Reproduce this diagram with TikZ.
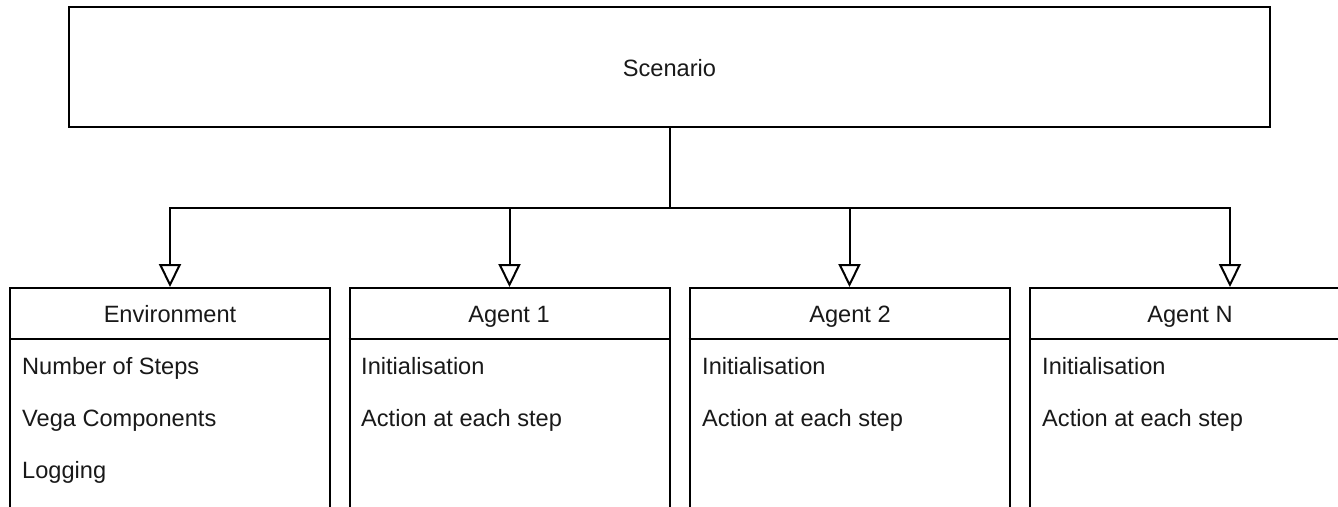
\documentclass[tikz,border=0pt]{standalone}
\usepackage{fontspec}
\setmainfont{Liberation Sans}
\usetikzlibrary{arrows.meta,calc}
\begin{document}
\begin{tikzpicture}[x=1pt,y=-1pt,
  frame/.style={draw=black,line width=2pt,rectangle,inner sep=0pt,fill=white},
  panel/.style={frame,minimum width=320pt,minimum height=300pt,anchor=north},
  txt/.style={font=\fontsize{23.6}{28}\selectfont,text=black!90,inner sep=0pt,anchor=base},
  item/.style={txt,anchor=base west},
  rule/.style={draw=black,line width=2pt},
  feed/.style={draw=black,line width=2pt,-{Triangle[fill=white,length=23pt,width=22pt]}}
]
\useasboundingbox (0,0) rectangle (1338,506);
\clip (0,0) rectangle (1338,506);

% top-level container
\node[frame,minimum width=1201pt,minimum height=120pt] (scen) at (669.5,67) {};
\node[txt] (scent) at (669.5,76) {Scenario};

% component panels
\node[panel] (env) at (170,287) {};
\node[panel] (ag1) at (509.5,287) {};
\node[panel] (ag2) at (849.5,287) {};
\node[panel] (agn) at (1190,287) {};

% header separators
\foreach \b in {env,ag1,ag2,agn}
  \draw[rule] ($(\b.north west)+(0,52)$) -- ($(\b.north east)+(0,52)$);

% headers
\node[txt] (envt) at (170,322) {Environment};
\node[txt] (ag1t) at (509,322) {Agent 1};
\node[txt] (ag2t) at (850,322) {Agent 2};
\node[txt] (agnt) at (1190,322) {Agent N};

% entries
\node[item] (env1) at (22,374) {Number of Steps};
\node[item] (env2) at (22,426) {Vega Components};
\node[item] (env3) at (22,478) {Logging};
\node[item] (ag1a) at (361,374) {Initialisation};
\node[item] (ag1b) at (361,426) {Action at each step};
\node[item] (ag2a) at (702,374) {Initialisation};
\node[item] (ag2b) at (702,426) {Action at each step};
\node[item] (agna) at (1042,374) {Initialisation};
\node[item] (agnb) at (1042,426) {Action at each step};

% connectors
\coordinate (hub) at ($(scen.south)+(0,80)$);
\coordinate (agnin) at ($(agn.north)+(40,0)$);
\draw[rule] (scen.south) -- (hub);
\draw[feed] (hub) -| (env.north);
\draw[feed] (hub) -| (ag1.north);
\draw[feed] (hub) -| (ag2.north);
\draw[feed] (hub) -| (agnin);
\end{tikzpicture}
\end{document}
